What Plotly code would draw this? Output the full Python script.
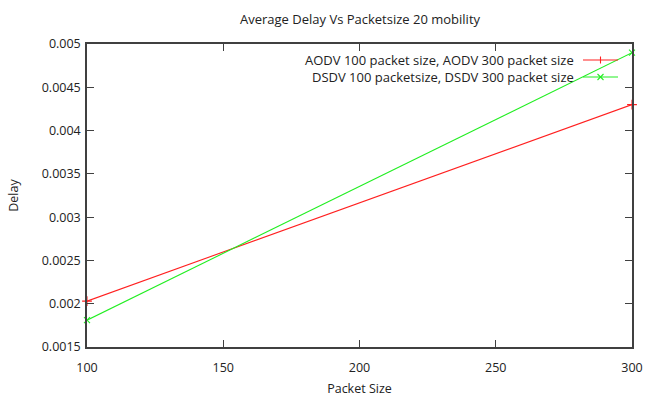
import plotly.graph_objects as go

# Packet sizes and measured average delay (seconds)
packet_size = [100, 300]
aodv_delay = [0.00203, 0.0043]
dsdv_delay = [0.00181, 0.0049]

x_ticks = [100, 150, 200, 250, 300]
y_ticks = [0.0015, 0.002, 0.0025, 0.003, 0.0035, 0.004, 0.0045, 0.005]
y_tick_text = ["0.0015", "0.002", "0.0025", "0.003", "0.0035", "0.004", "0.0045", "0.005"]

legend_labels = ["AODV 100 packet size, AODV 300 packet size",
                 "DSDV 100 packetsize, DSDV 300 packet size"]
series_colors = ["#ff2020", "#22ee22"]

FONT = "Open Sans, DejaVu Sans, sans-serif"
TEXT_COLOR = "#222222"
AXIS_COLOR = "#404040"

# plot area in pixels
L, R, T, B = 87, 632, 44, 347
W, H = 645, 397

fig = go.Figure()
fig.add_trace(go.Scatter(
    x=packet_size, y=aodv_delay, mode="lines+markers",
    line=dict(color=series_colors[0], width=1.1),
    marker=dict(symbol="cross-thin", size=7, line=dict(color=series_colors[0], width=1.1)),
    showlegend=False, cliponaxis=False,
))
fig.add_trace(go.Scatter(
    x=packet_size, y=dsdv_delay, mode="lines+markers",
    line=dict(color=series_colors[1], width=1.1),
    marker=dict(symbol="x-thin", size=6, line=dict(color=series_colors[1], width=1.1)),
    showlegend=False, cliponaxis=False,
))

axis_common = dict(
    showgrid=False, zeroline=False, showline=True, mirror="allticks",
    linecolor=AXIS_COLOR, linewidth=1.5, ticks="inside", ticklen=7,
    tickcolor=AXIS_COLOR, tickwidth=1.2, automargin=False,
    tickfont=dict(family=FONT, size=12.5, color=TEXT_COLOR),
)

fig.update_xaxes(range=[100, 300], tickvals=x_ticks, ticktext=[str(v) for v in x_ticks],
                 ticklabelstandoff=8,
                 title=dict(text="Packet Size", font=dict(family=FONT, size=12.5, color=TEXT_COLOR),
                            standoff=12),
                 **axis_common)
fig.update_yaxes(range=[0.0015, 0.005], tickvals=y_ticks, ticktext=y_tick_text,
                 ticklabelstandoff=2,
                 title=dict(text="Delay", font=dict(family=FONT, size=12.5, color=TEXT_COLOR),
                            standoff=20),
                 **axis_common)

# Key in the top-right corner: right-aligned labels followed by a line sample
key_rows_px = [60, 77]
key_text_px = 576
key_line_px = (583, 618)
shapes = []
annotations = []


def px_x(v):
    return (v - L) / (R - L)


def px_y(v):
    return 1 - (v - T) / (B - T)


for row, label, color in zip(key_rows_px, legend_labels, series_colors):
    yp = px_y(row)
    annotations.append(dict(
        xref="paper", yref="paper", x=px_x(key_text_px), y=yp, xanchor="right", yanchor="middle",
        text=label, showarrow=False, font=dict(family=FONT, size=13, color=TEXT_COLOR),
    ))
    shapes.append(dict(type="line", xref="paper", yref="paper",
                       x0=px_x(key_line_px[0]), x1=px_x(key_line_px[1]), y0=yp, y1=yp,
                       line=dict(color=color, width=1.1)))
    xm = (key_line_px[0] + key_line_px[1]) / 2
    if color == series_colors[0]:
        shapes.append(dict(type="line", xref="paper", yref="paper",
                           x0=px_x(xm), x1=px_x(xm), y0=px_y(row - 3.5), y1=px_y(row + 3.5),
                           line=dict(color=color, width=1.1)))
    else:
        shapes.append(dict(type="line", xref="paper", yref="paper",
                           x0=px_x(xm - 3), x1=px_x(xm + 3), y0=px_y(row - 3), y1=px_y(row + 3),
                           line=dict(color=color, width=1.1)))
        shapes.append(dict(type="line", xref="paper", yref="paper",
                           x0=px_x(xm - 3), x1=px_x(xm + 3), y0=px_y(row + 3), y1=px_y(row - 3),
                           line=dict(color=color, width=1.1)))

fig.update_layout(
    template="none",
    width=W, height=H,
    margin=dict(l=L, r=W - R, t=T, b=H - B, pad=0),
    paper_bgcolor="white", plot_bgcolor="white",
    title=dict(text="Average Delay Vs Packetsize 20 mobility", x=360 / W,
               xanchor="center", y=1 - 19 / H, yanchor="middle",
               font=dict(family=FONT, size=13, color=TEXT_COLOR)),
    shapes=shapes, annotations=annotations,
)

fig.write_html("out.html")
